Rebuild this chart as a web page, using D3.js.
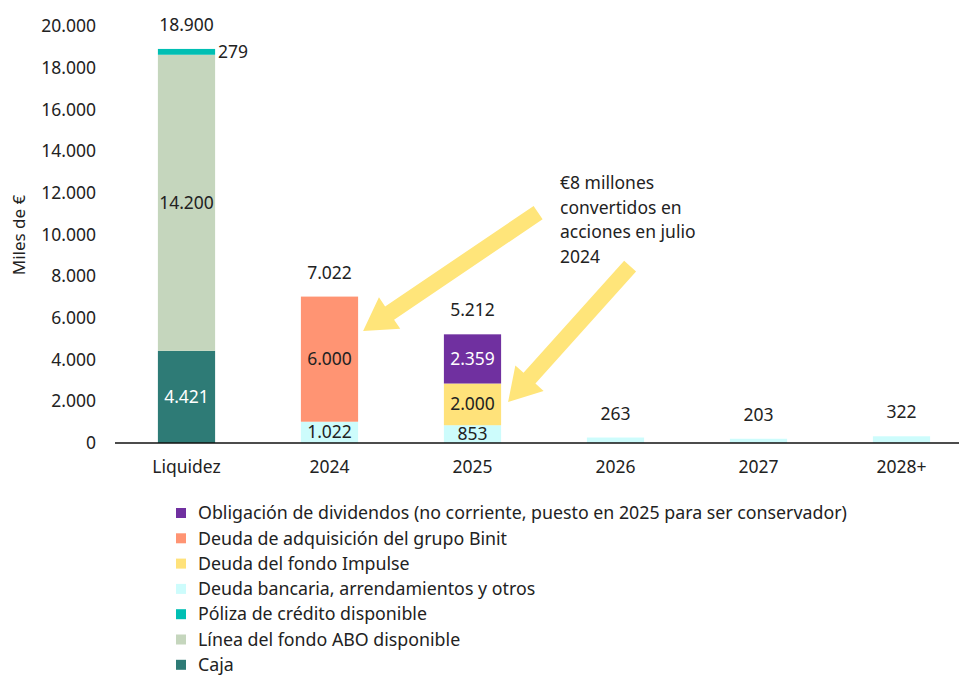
<!DOCTYPE html>
<html><head><meta charset="utf-8">
<script src="https://cdn.jsdelivr.net/npm/d3@7"></script>
<style>body{margin:0;background:#fff}svg{display:block}text{font-family:"Noto Sans",Roboto,sans-serif}</style>
</head><body>
<svg id="c" width="959" height="675"></svg>
<script>
const categories = ["Liquidez","2024","2025","2026","2027","2028+"];
const seriesNames = ["Caja","Línea del fondo ABO disponible","Póliza de crédito disponible","Deuda bancaria, arrendamientos y otros","Deuda del fondo Impulse","Deuda de adquisición del grupo Binit","Obligación de dividendos (no corriente, puesto en 2025 para ser conservador)"];
const caja       = [4421, 0, 0, 0, 0, 0];
const lineaABO   = [14200, 0, 0, 0, 0, 0];
const poliza     = [279, 0, 0, 0, 0, 0];
const bancaria   = [0, 1022, 853, 263, 203, 322];
const impulse    = [0, 0, 2000, 0, 0, 0];
const binit      = [0, 6000, 0, 0, 0, 0];
const dividendos = [0, 0, 2359, 0, 0, 0];
const yTicks = [0,2000,4000,6000,8000,10000,12000,14000,16000,18000,20000];
const annotationLines = ["€8 millones","convertidos en","acciones en julio","2024"];

const FS = 17.5;
const FONT = "'Noto Sans',Roboto,sans-serif";
const colors = ["#2e7b76","#c5d6bd","#00bfb3","#cdfcfc","#ffe27a","#ff9473","#7030a0"];
const labelColors = ["#fff","#222","#222","#222","#222","#222","#fff"];
const seriesVals = [caja, lineaABO, poliza, bancaria, impulse, binit, dividendos];

const svg = d3.select("#c");
const x = d3.scaleBand().domain(categories).range([115, 973]).paddingInner(0.6).paddingOuter(0.3);
const y = d3.scaleLinear().domain([0, 20000]).range([443, 26]);
const fmt = v => d3.format(",")(v).replace(/,/g, ".");

// y axis labels
const ya = svg.append("g").attr("transform","translate(115,0)")
  .call(d3.axisLeft(y).tickValues(yTicks).tickSize(0).tickPadding(19).tickFormat(fmt));
ya.select(".domain").remove();
ya.selectAll("text").attr("font-size",FS).attr("fill","#222").style("font-family",FONT);

svg.append("text").attr("transform","translate(25,235) rotate(-90)").attr("text-anchor","middle")
  .attr("font-size",17).attr("fill","#222").text("Miles de €");

// stacked bars
const rows = categories.map((c,i)=>{const o={cat:c}; seriesNames.forEach((s,k)=>o[s]=seriesVals[k][i]); return o;});
const stack = d3.stack().keys(seriesNames)(rows);
const g = svg.append("g");
stack.forEach((layer,k)=>{
  g.selectAll(null).data(layer.filter(d=>d[1]-d[0]>0)).join("rect")
    .attr("x",d=>x(d.data.cat)).attr("width",x.bandwidth())
    .attr("y",d=>y(d[1])).attr("height",d=>y(d[0])-y(d[1]))
    .attr("fill",colors[k]);
});

// axis baseline
svg.append("line").attr("x1",115).attr("x2",959).attr("y1",y(0)).attr("y2",y(0)).attr("stroke","#111").attr("stroke-width",1.5);

// category labels
const xa = svg.append("g").attr("transform",`translate(0,${y(0)})`).call(d3.axisBottom(x).tickSize(0).tickPadding(18));
xa.select(".domain").remove();
xa.selectAll("text").attr("font-size",FS).attr("fill","#222").style("font-family",FONT);

// segment labels
const lab = svg.append("g").attr("font-size",FS).attr("text-anchor","middle");
const totals = categories.map((c,i)=>d3.sum(seriesVals,s=>s[i]));
stack.forEach((layer,k)=>{
  layer.forEach((d,i)=>{
    const v=d[1]-d[0]; if(v<=0) return;
    const cx = x(d.data.cat)+x.bandwidth()/2;
    if(k===2){ // póliza label to the right
      lab.append("text").attr("x",x(d.data.cat)+x.bandwidth()+3).attr("y",y((d[0]+d[1])/2)).attr("dy","0.35em").attr("text-anchor","start").attr("fill","#222").text(fmt(v));
      return;
    }
    const multi = seriesVals.filter(s=>s[i]>0).length>1;
    if(!multi) return;
    lab.append("text").attr("x",cx).attr("y",y((d[0]+d[1])/2)).attr("dy","0.35em").attr("fill",labelColors[k]).text(fmt(v));
  });
});
categories.forEach((c,i)=>{
  lab.append("text").attr("x",x(c)+x.bandwidth()/2).attr("y",y(totals[i])-24).attr("dy","0.35em").attr("fill","#222").text(fmt(totals[i]));
});

// annotation
const ann = svg.append("text").attr("x",560).attr("y",183).attr("font-size",FS).attr("fill","#222");
annotationLines.forEach((t,i)=>ann.append("tspan").attr("x",560).attr("y",183+i*24.5).attr("dy","0.35em").text(t));

function arrow(x0,y0,x1,y1){
  const dx=x1-x0, dy=y1-y0, L=Math.hypot(dx,dy), ux=dx/L, uy=dy/L, px=-uy, py=ux;
  const sw=8, hw=19, hl=32;
  const bx=x1-ux*hl, by=y1-uy*hl;
  const pts=[[x0+px*sw,y0+py*sw],[bx+px*sw,by+py*sw],[bx+px*hw,by+py*hw],[x1,y1],[bx-px*hw,by-py*hw],[bx-px*sw,by-py*sw],[x0-px*sw,y0-py*sw]];
  svg.append("path").attr("d","M"+pts.map(p=>p.join(",")).join("L")+"Z").attr("fill","#ffe57a");
}
arrow(x("2024")+x.bandwidth()+180, y(11050), x("2024")+x.bandwidth()+5, y(5370));
arrow(x("2025")+x.bandwidth()+129, y(8480), x("2025")+x.bandwidth()+7, y(1966));

// legend
const legOrder = [6,5,4,3,2,1,0];
const leg = svg.append("g");
legOrder.forEach((k,i)=>{
  const yy = 513 + i*25.3;
  leg.append("rect").attr("x",176).attr("y",yy-5).attr("width",10).attr("height",10).attr("fill",colors[k]);
  leg.append("text").attr("x",198).attr("y",yy).attr("dy","0.35em").attr("font-size",17.8).attr("fill","#222").text(seriesNames[k]);
});
</script>
</body></html>
